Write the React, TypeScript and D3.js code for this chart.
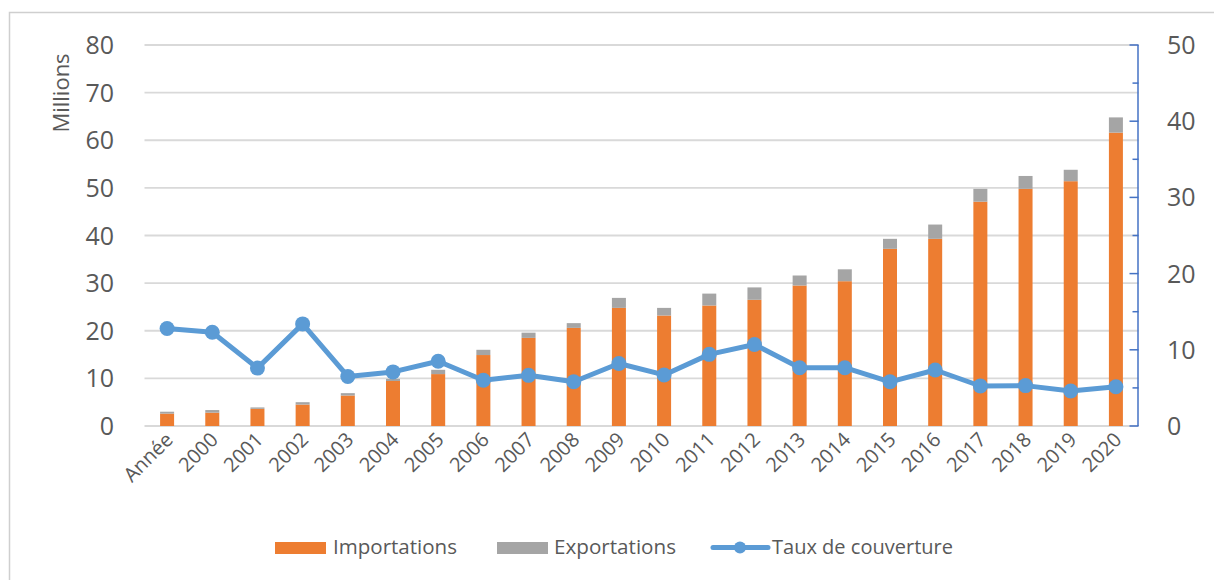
import React from "react";
import * as d3 from "d3";

const categories = ["Année","2000","2001","2002","2003","2004","2005","2006","2007","2008","2009","2010","2011","2012","2013","2014","2015","2016","2017","2018","2019","2020"];
const importations = [2.6,2.8,3.6,4.5,6.4,9.45,10.9,14.9,18.5,20.6,24.8,23.2,25.3,26.5,29.5,30.4,37.2,39.3,47.1,49.8,51.4,61.6];
const exportations = [0.4,0.55,0.3,0.5,0.5,0.45,0.9,1.1,1.1,1.0,2.1,1.6,2.5,2.6,2.1,2.5,2.1,3.0,2.7,2.7,2.4,3.2];
const tauxCouverture = [12.8,12.3,7.6,13.4,6.5,7.1,8.5,6.0,6.65,5.8,8.2,6.7,9.4,10.7,7.65,7.65,5.8,7.35,5.25,5.3,4.6,5.15];
const leftTicks = [0,10,20,30,40,50,60,70,80];
const rightTicks = [0,10,20,30,40,50];
const rightMinorTicks = [5,15,25,35,45];

const ORANGE = "#ED7D31";
const GRAY = "#A5A5A5";
const BLUE = "#5B9BD5";
const AXIS_BLUE = "#4472C4";
const TEXT = "#595959";
const FONT = "'Open Sans', sans-serif";

export default function App() {
  const left = 144.5, right = 1138.5, top = 45, bottom = 426;
  const x = d3.scaleBand<string>().domain(categories).range([left, right]).paddingInner(0).paddingOuter(0);
  const yL = d3.scaleLinear().domain([0, 80]).range([bottom, top]);
  const yR = d3.scaleLinear().domain([0, 50]).range([bottom, top]);
  const cx = (c: string) => (x(c) as number) + x.bandwidth() / 2;
  const barW = 14;

  const line = d3.line<number>()
    .x((_, i) => cx(categories[i]))
    .y((d) => yR(d));

  return (
    <svg width={1214} height={580} style={{ position: "absolute", left: 0, top: 0, background: "#fff" }}>
      <rect x={9.5} y={12.5} width={1300} height={700} fill="#fff" stroke="#CFCFCF" strokeWidth={1.5} />
      {/* gridlines */}
      {leftTicks.map((t) => (
        <line key={"g" + t} x1={left} x2={right} y1={yL(t)} y2={yL(t)} stroke="#D9D9D9" strokeWidth={1.8} />
      ))}
      {/* left tick labels */}
      {leftTicks.map((t) => (
        <text key={"lt" + t} x={114} y={yL(t)} dy="0.36em" textAnchor="end" fontFamily={FONT} fontSize={25} fill={TEXT}>
          {t}
        </text>
      ))}
      <text transform={`translate(69,${93}) rotate(-90)`} textAnchor="middle" fontFamily={FONT} fontSize={22} fill={TEXT}>
        Millions
      </text>
      {/* bars */}
      {categories.map((c, i) => (
        <g key={"b" + c}>
          <rect x={cx(c) - barW / 2} y={yL(importations[i])} width={barW} height={yL(0) - yL(importations[i])} fill={ORANGE} />
          <rect x={cx(c) - barW / 2} y={yL(importations[i] + exportations[i])} width={barW} height={yL(importations[i]) - yL(importations[i] + exportations[i])} fill={GRAY} />
        </g>
      ))}
      {/* right axis */}
      <line x1={right - 0.5} x2={right - 0.5} y1={top} y2={bottom} stroke={AXIS_BLUE} strokeWidth={1.5} />
      {rightTicks.map((t) => (
        <line key={"rt" + t} x1={right - 9} x2={right} y1={yR(t)} y2={yR(t)} stroke={AXIS_BLUE} strokeWidth={1.5} />
      ))}
      {rightMinorTicks.map((t) => (
        <line key={"rm" + t} x1={right - 6} x2={right} y1={yR(t)} y2={yR(t)} stroke={AXIS_BLUE} strokeWidth={1.5} />
      ))}
      {rightTicks.map((t) => (
        <text key={"rl" + t} x={1167} y={yR(t)} dy="0.36em" textAnchor="start" fontFamily={FONT} fontSize={25} fill={TEXT}>
          {t}
        </text>
      ))}
      {/* line */}
      <path d={line(tauxCouverture) || ""} fill="none" stroke={BLUE} strokeWidth={5} strokeLinejoin="round" />
      {tauxCouverture.map((v, i) => (
        <circle key={"m" + i} cx={cx(categories[i])} cy={yR(v)} r={7.5} fill={BLUE} />
      ))}
      {/* x labels */}
      {categories.map((c) => (
        <text key={"xl" + c} transform={`translate(${cx(c) + 7},${441}) rotate(-45)`} textAnchor="end" fontFamily={FONT} fontSize={20} fill={TEXT}>
          {c}
        </text>
      ))}
      {/* legend */}
      <rect x={275} y={542} width={51} height={12} fill={ORANGE} />
      <text x={333} y={554} fontFamily={FONT} fontSize={20} fill={TEXT} textLength={124} lengthAdjust="spacingAndGlyphs">Importations</text>
      <rect x={497} y={542} width={51} height={12} fill={GRAY} />
      <text x={554} y={554} fontFamily={FONT} fontSize={20} fill={TEXT} textLength={122} lengthAdjust="spacingAndGlyphs">Exportations</text>
      <line x1={713} x2={768} y1={547.5} y2={547.5} stroke={BLUE} strokeWidth={5} strokeLinecap="round" />
      <circle cx={740} cy={547.5} r={6} fill={BLUE} />
      <text x={772} y={554} fontFamily={FONT} fontSize={20} fill={TEXT} textLength={181} lengthAdjust="spacingAndGlyphs">Taux de couverture</text>
    </svg>
  );
}
